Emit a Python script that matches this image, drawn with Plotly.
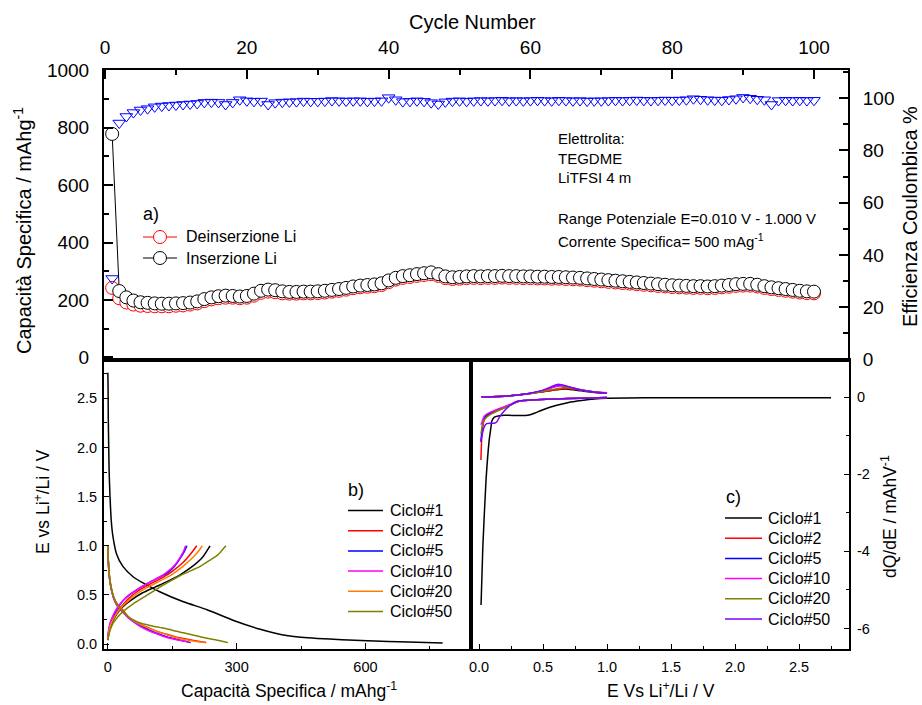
import plotly.graph_objects as go

# ---------------- data: cycling (panel a) ----------------
cycles = list(range(1, 101))

inserzione = [778, 231, 209, 198, 192, 190, 188, 187, 187, 188,
              189, 191, 195, 203, 209, 213, 215, 214, 212, 214,
              222, 232, 236, 234, 230, 228, 228, 229, 229, 230,
              232, 235, 238, 242, 247, 250, 252, 254, 258, 268,
              277, 283, 286, 290, 293, 296, 290, 282, 279, 280,
              282, 283, 282, 283, 283, 284, 283, 283, 282, 282,
              281, 281, 280, 280, 279, 278, 277, 275, 273, 271,
              269, 267, 265, 263, 261, 259, 257, 255, 253, 251,
              250, 249, 248, 248, 247, 248, 250, 252, 255, 256,
              256, 253, 248, 244, 241, 238, 235, 232, 230, 229]

deinserzione = [242, 206, 191, 184, 180, 179, 178, 178, 178, 180,
                181, 184, 188, 196, 202, 206, 208, 208, 206, 208,
                215, 225, 229, 227, 223, 222, 222, 223, 223, 224,
                226, 229, 232, 236, 241, 244, 246, 248, 252, 262,
                271, 277, 280, 284, 287, 290, 284, 276, 273, 274,
                276, 277, 276, 277, 277, 278, 277, 277, 276, 276,
                275, 275, 274, 274, 273, 272, 271, 269, 267, 265,
                263, 261, 259, 257, 255, 253, 251, 249, 247, 245,
                244, 243, 242, 242, 241, 242, 244, 246, 249, 250,
                250, 247, 242, 238, 235, 232, 229, 226, 224, 223]

efficienza = [31, 90.5, 93, 94.5, 95.5, 96, 96.7, 97, 97.2, 97.4,
              97.6, 97.8, 98, 98.4, 98.5, 98.4, 97.6, 98.4, 99.4, 99,
              98.8, 98.9, 97.6, 98.3, 98.5, 98.6, 98.7, 98.9, 98.8, 98.8,
              98.9, 99.1, 99, 98.9, 99, 99, 98.8, 98.9, 99, 100.2,
              99.4, 98.7, 98.8, 99, 98.8, 98.3, 97.8, 98.6, 98.9, 99,
              98.8, 99, 99.1, 99, 99.1, 99.2, 99, 99.1, 99, 99.1,
              99.2, 99.1, 99, 99.2, 99.1, 99, 99.1, 98.9, 99, 99,
              99.1, 99.2, 99.1, 99.2, 99.3, 99.2, 99.1, 99.2, 99.3, 99.2,
              99.3, 99.4, 99.8, 99.6, 99.4, 99.3, 99.2, 99.5, 99.8, 100.3,
              100, 99.6, 99.4, 97.6, 99.1, 99.2, 99.1, 99.2, 99.1, 99.2]

# ---------------- data: voltage profiles (panel b) ----------------
# each list: discharge branch, None, charge branch
cap_c1 = [0, 0.5, 1, 2, 3, 5, 8, 12, 20, 35, 60, 83, 122, 176, 231, 293, 355, 390, 420, 450, 488, 545, 605, 700, 780,
          None, 0, 2, 5, 10, 20, 35, 55, 80, 110, 140, 170, 200, 220, 238]
e_c1 = [2.76, 2.6, 2.3, 2.0, 1.75, 1.5, 1.25, 1.09, 0.92, 0.79, 0.68, 0.62, 0.53, 0.43, 0.35, 0.24, 0.15, 0.11, 0.085, 0.07, 0.058, 0.045, 0.034, 0.02, 0.01,
        None, 0.04, 0.10, 0.16, 0.22, 0.30, 0.38, 0.45, 0.52, 0.58, 0.64, 0.71, 0.80, 0.88, 1.0]

cap_c2 = [0, 1, 3, 5, 10, 16, 25, 36, 47, 59, 75, 98, 120, 137, 160, 190, 210, 229,
          None, 0, 2, 6, 12, 22, 35, 50, 70, 98, 125, 150, 175, 195, 207]
e_c2 = [1.0, 0.85, 0.72, 0.64, 0.53, 0.45, 0.39, 0.34, 0.28, 0.24, 0.20, 0.16, 0.12, 0.10, 0.07, 0.045, 0.03, 0.015,
        None, 0.05, 0.12, 0.19, 0.25, 0.33, 0.40, 0.47, 0.54, 0.61, 0.67, 0.74, 0.83, 0.93, 1.0]

cap_c5 = [0, 1, 3, 5, 10, 16, 25, 36, 47, 59, 75, 98, 120, 140, 160, 180, 193,
          None, 0, 2, 6, 12, 22, 35, 50, 70, 98, 120, 137, 155, 168, 178, 184]
e_c5 = [1.0, 0.85, 0.71, 0.63, 0.52, 0.44, 0.37, 0.32, 0.27, 0.23, 0.19, 0.14, 0.10, 0.07, 0.05, 0.03, 0.015,
        None, 0.06, 0.14, 0.22, 0.28, 0.36, 0.44, 0.50, 0.56, 0.63, 0.68, 0.72, 0.79, 0.87, 0.94, 1.0]

cap_c10 = [0, 1, 3, 5, 10, 16, 25, 36, 47, 59, 75, 98, 120, 140, 160, 178, 190,
           None, 0, 2, 6, 12, 22, 35, 50, 70, 98, 120, 137, 155, 168, 176, 181]
e_c10 = [1.0, 0.85, 0.71, 0.63, 0.52, 0.44, 0.37, 0.32, 0.27, 0.23, 0.18, 0.13, 0.095, 0.065, 0.045, 0.03, 0.015,
         None, 0.06, 0.14, 0.22, 0.29, 0.37, 0.44, 0.50, 0.56, 0.63, 0.68, 0.73, 0.80, 0.88, 0.94, 1.0]

cap_c20 = [0, 1, 3, 5, 10, 16, 25, 36, 47, 59, 75, 98, 120, 140, 165, 195, 227,
           None, 0, 2, 6, 12, 22, 35, 50, 70, 98, 125, 150, 175, 200, 212, 220]
e_c20 = [1.0, 0.85, 0.72, 0.64, 0.53, 0.45, 0.38, 0.33, 0.28, 0.24, 0.20, 0.155, 0.12, 0.09, 0.06, 0.035, 0.015,
         None, 0.05, 0.12, 0.19, 0.25, 0.32, 0.39, 0.45, 0.52, 0.59, 0.65, 0.71, 0.79, 0.89, 0.95, 1.0]

cap_c50 = [0, 1, 3, 5, 10, 16, 25, 36, 47, 59, 75, 98, 120, 137, 160, 176, 200, 230, 255, 280,
           None, 0, 2, 6, 12, 22, 35, 59, 85, 110, 137, 170, 215, 240, 254, 265, 275]
e_c50 = [1.0, 0.85, 0.72, 0.64, 0.53, 0.45, 0.38, 0.33, 0.28, 0.245, 0.215, 0.19, 0.17, 0.155, 0.13, 0.115, 0.09, 0.06, 0.04, 0.015,
         None, 0.04, 0.09, 0.15, 0.21, 0.27, 0.33, 0.41, 0.48, 0.55, 0.62, 0.70, 0.79, 0.86, 0.90, 0.95, 1.0]

# ---------------- data: differential capacity (panel c) ----------------
# each list: cathodic branch, None, anodic branch
v_c1 = [2.75, 2.4, 2.0, 1.6, 1.3, 1.0, 0.9, 0.8, 0.7, 0.6, 0.5, 0.44, 0.4, 0.36, 0.3, 0.2, 0.15, 0.12, 0.1, 0.094, 0.08, 0.055, 0.03, 0.016,
        None, 0.02, 0.1, 0.2, 0.3, 0.4, 0.5, 0.6, 0.68, 0.8, 0.9, 1.0]
q_c1 = [-0.02, -0.02, -0.02, -0.02, -0.02, -0.03, -0.05, -0.09, -0.14, -0.22, -0.33, -0.41, -0.46, -0.48, -0.48, -0.47, -0.49, -0.52, -0.62, -0.77, -1.11, -2.15, -3.88, -5.39,
        None, 0.0, 0.005, 0.02, 0.05, 0.09, 0.14, 0.19, 0.21, 0.16, 0.12, 0.1]

v_c2 = [1.0, 0.8, 0.6, 0.45, 0.35, 0.3, 0.25, 0.2, 0.15, 0.12, 0.09, 0.06, 0.04, 0.03, 0.022, 0.015,
        None, 0.02, 0.1, 0.2, 0.3, 0.4, 0.5, 0.6, 0.68, 0.75, 0.85, 1.0]
q_c2 = [-0.01, -0.03, -0.05, -0.07, -0.09, -0.12, -0.2, -0.28, -0.34, -0.38, -0.43, -0.5, -0.6, -0.75, -1.0, -1.63,
        None, 0.0, 0.005, 0.02, 0.05, 0.09, 0.14, 0.19, 0.22, 0.2, 0.15, 0.1]

v_c5 = [1.0, 0.8, 0.6, 0.45, 0.35, 0.3, 0.25, 0.2, 0.15, 0.12, 0.09, 0.06, 0.04, 0.03, 0.022, 0.015,
        None, 0.02, 0.1, 0.2, 0.3, 0.4, 0.5, 0.57, 0.63, 0.7, 0.8, 0.9, 1.0]
q_c5 = [-0.01, -0.03, -0.05, -0.07, -0.09, -0.12, -0.19, -0.26, -0.32, -0.36, -0.41, -0.47, -0.55, -0.68, -0.9, -1.16,
        None, 0.0, 0.005, 0.02, 0.05, 0.1, 0.17, 0.25, 0.3, 0.26, 0.18, 0.13, 0.1]

v_c10 = [1.0, 0.8, 0.6, 0.45, 0.35, 0.3, 0.25, 0.2, 0.15, 0.12, 0.09, 0.06, 0.04, 0.03, 0.022, 0.015,
         None, 0.02, 0.1, 0.2, 0.3, 0.4, 0.5, 0.57, 0.64, 0.7, 0.8, 0.9, 1.0]
q_c10 = [-0.01, -0.03, -0.05, -0.07, -0.09, -0.11, -0.18, -0.25, -0.31, -0.35, -0.39, -0.44, -0.5, -0.58, -0.66, -0.72,
         None, 0.0, 0.005, 0.02, 0.05, 0.1, 0.16, 0.24, 0.29, 0.26, 0.18, 0.13, 0.1]

v_c20 = [1.0, 0.8, 0.6, 0.45, 0.35, 0.3, 0.25, 0.2, 0.15, 0.12, 0.09, 0.06, 0.04, 0.03, 0.022, 0.015,
         None, 0.02, 0.1, 0.2, 0.3, 0.4, 0.5, 0.6, 0.67, 0.75, 0.85, 1.0]
q_c20 = [-0.01, -0.03, -0.05, -0.07, -0.09, -0.12, -0.2, -0.28, -0.35, -0.4, -0.45, -0.52, -0.6, -0.7, -0.82, -0.95,
         None, 0.0, 0.005, 0.02, 0.05, 0.09, 0.15, 0.21, 0.25, 0.22, 0.16, 0.11]

v_c50 = [1.0, 0.8, 0.6, 0.45, 0.35, 0.3, 0.25, 0.2, 0.16, 0.14, 0.12, 0.09, 0.06, 0.04, 0.03, 0.02, 0.015,
         None, 0.02, 0.1, 0.2, 0.3, 0.4, 0.5, 0.56, 0.62, 0.7, 0.8, 0.9, 1.0]
q_c50 = [-0.01, -0.03, -0.05, -0.07, -0.09, -0.11, -0.2, -0.35, -0.52, -0.64, -0.68, -0.68, -0.69, -0.78, -0.9, -1.05, -1.15,
         None, 0.0, 0.005, 0.02, 0.05, 0.1, 0.18, 0.26, 0.33, 0.27, 0.18, 0.13, 0.1]

legend_labels = ["Ciclo#1", "Ciclo#2", "Ciclo#5", "Ciclo#10", "Ciclo#20", "Ciclo#50"]
colors_b = ["#000000", "#FF0000", "#0000FF", "#FF00FF", "#FF8000", "#808000"]
colors_c = ["#000000", "#FF0000", "#0000FF", "#FF00FF", "#808000", "#8000FF"]

info_lines = ["Elettrolita:", "TEGDME", "LiTFSI 4 m"]
info_cond = ["Range Potenziale E=0.010 V - 1.000 V", "Corrente Specifica= 500 mAg<sup>-1</sup>"]

# ---------------- layout helpers ----------------
W, H = 922, 705
FONT = "Liberation Sans, Arial, sans-serif"


def fx(px):
    return px / W


def fy(py):
    return 1 - py / H


fig = go.Figure()

# panel a
fig.add_trace(go.Scatter(x=cycles, y=deinserzione, mode="lines+markers", xaxis="x", yaxis="y",
                         line=dict(color="#FF0000", width=1),
                         marker=dict(symbol="circle", size=13, color="white",
                                     line=dict(color="#FF0000", width=1)),
                         showlegend=False))
fig.add_trace(go.Scatter(x=cycles, y=inserzione, mode="lines+markers", xaxis="x", yaxis="y",
                         line=dict(color="#000000", width=1),
                         marker=dict(symbol="circle", size=13, color="white",
                                     line=dict(color="#000000", width=1)),
                         showlegend=False))
fig.add_trace(go.Scatter(x=cycles, y=efficienza, mode="markers", xaxis="x", yaxis="y2",
                         marker=dict(symbol="triangle-down-open", size=11, color="#0000FF",
                                     line=dict(color="#0000FF", width=1)),
                         showlegend=False))

# panel b
for xs, ys, col in zip([cap_c1, cap_c2, cap_c5, cap_c10, cap_c20, cap_c50],
                       [e_c1, e_c2, e_c5, e_c10, e_c20, e_c50], colors_b):
    fig.add_trace(go.Scatter(x=xs, y=ys, mode="lines", xaxis="x3", yaxis="y3",
                             line=dict(color=col, width=1.5, shape="spline", smoothing=0.6),
                             showlegend=False))

# panel c
for xs, ys, col in zip([v_c1, v_c2, v_c5, v_c10, v_c20, v_c50],
                       [q_c1, q_c2, q_c5, q_c10, q_c20, q_c50], colors_c):
    fig.add_trace(go.Scatter(x=xs, y=ys, mode="lines", xaxis="x4", yaxis="y4",
                             line=dict(color=col, width=1.5, shape="spline", smoothing=0.5),
                             showlegend=False))

axis_common = dict(showgrid=False, zeroline=False, showline=True, linecolor="black",
                   ticks="inside", tickcolor="black", color="black", automargin=False)

tick_big = dict(family=FONT, size=19, color="black")
tick_small = dict(family=FONT, size=14.5, color="black")

fig.update_layout(
    width=W, height=H,
    margin=dict(l=0, r=0, t=0, b=0, pad=0, autoexpand=False),
    paper_bgcolor="white", plot_bgcolor="rgba(0,0,0,0)",
    font=dict(family=FONT, color="black"),
    showlegend=False,
    xaxis=dict(**axis_common, domain=[fx(104), fx(848)], anchor="y", side="top",
               range=[-0.15, 104.8], dtick=20, tick0=0, ticklen=9, tickwidth=1.5,
               linewidth=2, mirror=True, tickfont=tick_big, ticklabelstandoff=6,
               minor=dict(dtick=10, ticklen=5, tickwidth=1.5, ticks="inside", tickcolor="black")),
    yaxis=dict(**axis_common, domain=[fy(360), fy(70)], anchor="x",
               range=[-9, 1000.5], dtick=200, tick0=0, ticklen=9, tickwidth=1.5,
               linewidth=2, tickfont=tick_big, ticklabelstandoff=9,
               minor=dict(dtick=100, ticklen=5, tickwidth=1.5, ticks="inside", tickcolor="black")),
    yaxis2=dict(**axis_common, overlaying="y", anchor="x", side="right",
                range=[-0.2, 110.8], dtick=20, tick0=0, ticklen=9, tickwidth=1.5,
                linewidth=2, tickfont=tick_big, ticklabelstandoff=9,
                minor=dict(dtick=10, ticklen=5, tickwidth=1.5, ticks="inside", tickcolor="black")),
    xaxis3=dict(**axis_common, domain=[fx(104), fx(471)], anchor="y3",
                range=[-9, 846], dtick=300, tick0=0, ticklen=6, tickwidth=1.2,
                linewidth=2, mirror=True, tickfont=tick_small, ticklabelstandoff=4,
                minor=dict(dtick=150, ticklen=3, tickwidth=1.2, ticks="inside", tickcolor="black")),
    yaxis3=dict(**axis_common, domain=[fy(649), fy(360)], anchor="x3",
                range=[-0.05, 2.89], dtick=0.5, tick0=0, tickformat=".1f", ticklen=5, tickwidth=1.2,
                linewidth=2, mirror=True, tickfont=tick_small, ticklabelstandoff=2,
                minor=dict(dtick=0.25, ticklen=3, tickwidth=1.2, ticks="inside", tickcolor="black")),
    xaxis4=dict(**axis_common, domain=[fx(471), fx(849)], anchor="y4",
                range=[-0.0625, 2.89], dtick=0.5, tick0=0, tickformat=".1f", ticklen=5, tickwidth=1.2,
                linewidth=2, mirror=True, tickfont=tick_small, ticklabelstandoff=4,
                minor=dict(dtick=0.25, ticklen=3, tickwidth=1.2, ticks="inside", tickcolor="black")),
    yaxis4=dict(**axis_common, domain=[fy(649), fy(360)], anchor="x4", side="right",
                range=[-6.53, 0.96], tickvals=[0, -2, -4, -6], ticktext=["0", "-2", "-4", "-6"],
                ticklen=5, tickwidth=1.2, linewidth=2, mirror=True, tickfont=tick_small,
                ticklabelstandoff=3,
                minor=dict(dtick=1, tick0=0, ticklen=3, tickwidth=1.2, ticks="inside", tickcolor="black")),
)

annotations = []


def label(text, px, py, size, anchor="left", angle=0):
    annotations.append(dict(text=text, x=fx(px), y=fy(py), xref="paper", yref="paper",
                            xanchor=anchor, yanchor="middle", showarrow=False, textangle=angle,
                            font=dict(family=FONT, size=size, color="black")))


# axis titles
label("Cycle Number", 472, 22, 20, "center")
label("Capacità Specifica / mAhg<sup>-1</sup>", 23, 231, 20, "center", -90)
label("Efficienza Coulombica %", 910, 217, 20, "center", -90)
label("E vs Li<sup>+</sup>/Li / V", 42, 502, 17.5, "center", -90)
label("dQ/dE / mAhV<sup>-1</sup>", 889, 517, 17.5, "center", -90)
label("Capacità Specifica / mAhg<sup>-1</sup>", 289, 690, 17.5, "center")
label("E Vs Li<sup>+</sup>/Li / V", 661, 690, 17.5, "center")

# info text in panel a
for i, t in enumerate(info_lines):
    label(t, 556, 138 + 20 * i, 15)
for i, t in enumerate(info_cond):
    label(t, 556, 218 + 23 * i, 15)

# panel tags
label("a)", 141, 214, 18)
label("b)", 346, 490, 18)
label("c)", 724, 497, 18)

shapes = []

# legend of panel a
for i, (name, col) in enumerate([("Deinserzione Li", "#FF0000"), ("Inserzione Li", "#000000")]):
    yy = 237 + 21 * i
    shapes.append(dict(type="line", xref="paper", yref="paper", x0=fx(143), x1=fx(177),
                       y0=fy(yy), y1=fy(yy), line=dict(color=col, width=1)))
    shapes.append(dict(type="circle", xref="paper", yref="paper", x0=fx(160 - 6.5), x1=fx(160 + 6.5),
                       y0=fy(yy + 6.5), y1=fy(yy - 6.5), fillcolor="white", line=dict(color=col, width=1)))
    label(name, 184, yy, 16)

# legends of panels b and c
for i, name in enumerate(legend_labels):
    yb = 510.5 + 20.2 * i
    shapes.append(dict(type="line", xref="paper", yref="paper", x0=fx(348), x1=fx(383),
                       y0=fy(yb), y1=fy(yb), line=dict(color=colors_b[i], width=1.5)))
    label(name, 388, yb, 16)
    yc = 518 + 20.2 * i
    shapes.append(dict(type="line", xref="paper", yref="paper", x0=fx(725), x1=fx(762),
                       y0=fy(yc), y1=fy(yc), line=dict(color=colors_c[i], width=1.5)))
    label(name, 766, yc, 16)

fig.update_layout(annotations=annotations, shapes=shapes)

fig.write_html("out.html")
